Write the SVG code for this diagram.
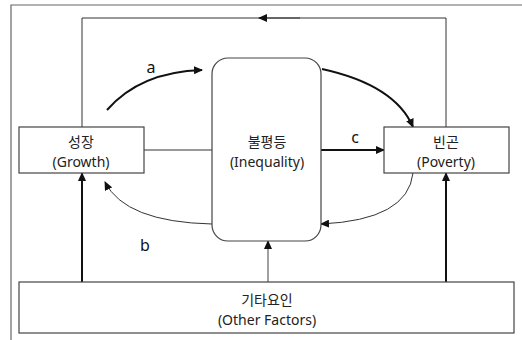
<svg xmlns="http://www.w3.org/2000/svg" width="522" height="340" viewBox="0 0 522 340">
<style>
.box{fill:#fff;stroke:#444;stroke-width:1.2}
.t{font-family:"Noto Sans","Noto Sans CJK KR",sans-serif;font-size:14px;fill:#222;text-anchor:middle}
.lbl{font-family:"Noto Sans","Noto Sans CJK KR",sans-serif;font-size:16px;fill:#111;text-anchor:middle}
.thin{fill:none;stroke:#333;stroke-width:1}
.thick{fill:none;stroke:#111;stroke-width:2}
.gray{fill:none;stroke:#888;stroke-width:1.6}
</style>
<defs>
<marker id="ah" markerUnits="userSpaceOnUse" markerWidth="9" markerHeight="8" refX="8" refY="4" orient="auto">
<path d="M0,0 L9,4 L0,8 z" fill="#111"/>
</marker>
</defs>
<rect x="0" y="0" width="522" height="340" fill="#fff"/>
<path d="M11,340 V5 H522" fill="none" stroke="#666" stroke-width="1.2"/>
<g id="connectors">
<path class="thin" d="M446,127 V18 H82 V127"/>
<path class="thin" d="M300,18 H259" marker-end="url(#ah)"/>
<path class="thin" d="M144,150 H212"/>
<path class="thick" d="M107,110 Q140,72 202,70" marker-end="url(#ah)"/>
<path class="thick" d="M322,69 Q395,85 413,127" marker-end="url(#ah)"/>
<path class="thick" d="M321,150 H384" marker-end="url(#ah)"/>
<path class="thin" d="M212,224 Q125,222 105,182" marker-end="url(#ah)"/>
<path class="thin" d="M413,173 Q408,220 321,224" marker-end="url(#ah)"/>
<path class="thick" d="M82,282 V173" marker-end="url(#ah)"/>
<path class="gray" d="M268,282 V241" marker-end="url(#ah)"/>
<path class="thick" d="M446,282 V173" marker-end="url(#ah)"/>
<text class="lbl" x="151" y="73">a</text>
<text class="lbl" x="145" y="251">b</text>
<text class="lbl" x="355" y="143">c</text>
</g>
<g id="growth">
<rect class="box" x="19" y="127" width="125" height="46"/>
<text class="t" x="81" y="147">성장</text>
<text class="t" x="81" y="167">(Growth)</text>
</g>
<g id="inequality">
<rect class="box" x="212" y="58" width="109" height="183" rx="16" ry="16"/>
<text class="t" x="267" y="147">불평등</text>
<text class="t" x="267" y="167">(Inequality)</text>
</g>
<g id="poverty">
<rect class="box" x="384" y="127" width="125" height="46"/>
<text class="t" x="446" y="147">빈곤</text>
<text class="t" x="446" y="167">(Poverty)</text>
</g>
<g id="other">
<rect class="box" x="19" y="282" width="495" height="51"/>
<text class="t" x="267" y="305">기타요인</text>
<text class="t" x="267" y="325">(Other Factors)</text>
</g>
</svg>
